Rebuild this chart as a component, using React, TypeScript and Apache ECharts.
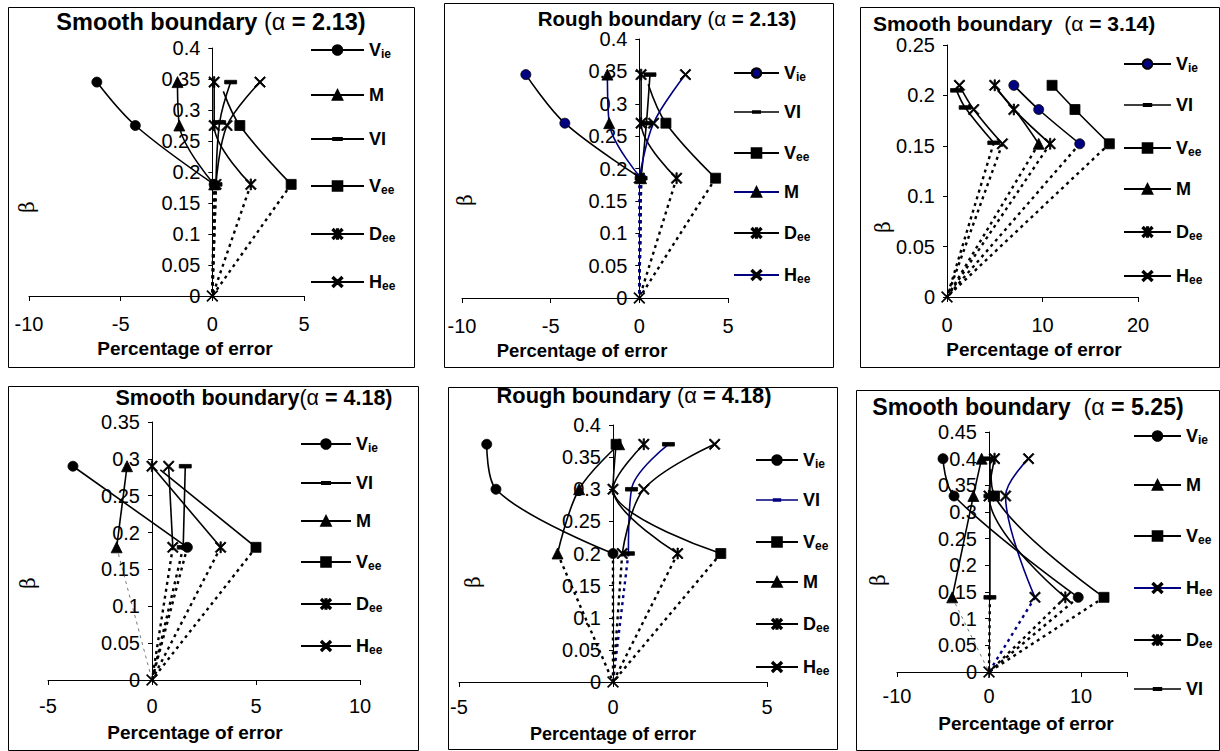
import React, { useEffect, useRef } from "react";
import * as echarts from "echarts";

// ---------- Data (percentage of error, beta) ----------
// Panel 1: Smooth boundary (alpha = 2.13)
const p1Vie = [[-6.3, 0.345], [-4.2, 0.275], [0.1, 0.18]];
const p1M = [[-1.9, 0.345], [-1.8, 0.275], [0.1, 0.18]];
const p1VI = [[1.0, 0.345], [0.4, 0.28], [0.2, 0.18]];
const p1Vee = [[0.6, 0.33], [1.5, 0.275], [4.3, 0.18]];
const p1Dee = [[0.1, 0.345], [0.1, 0.275], [2.1, 0.18]];
const p1Hee = [[2.6, 0.345], [0.8, 0.275], [0.2, 0.18]];

// Panel 2: Rough boundary (alpha = 2.13)
const p2Vie = [[-6.4, 0.345], [-4.2, 0.27], [0.1, 0.185]];
const p2VI = [[0.6, 0.345], [0.4, 0.27], [0.1, 0.185]];
const p2Vee = [[0.5, 0.33], [1.5, 0.27], [4.3, 0.185]];
const p2M = [[-1.8, 0.345], [-1.7, 0.27], [0.1, 0.185]];
const p2Dee = [[0.1, 0.345], [0.1, 0.27], [2.1, 0.185]];
const p2Hee = [[2.6, 0.345], [0.8, 0.27], [0.0, 0.185]];

// Panel 3: Smooth boundary (alpha = 3.14)
const p3Vie = [[7.0, 0.21], [9.6, 0.186], [13.9, 0.152]];
const p3VI = [[1.0, 0.205], [1.9, 0.188], [4.9, 0.153]];
const p3Vee = [[11.0, 0.21], [13.4, 0.186], [17.0, 0.152]];
const p3M = [[5.3, 0.205], [7.3, 0.183], [9.6, 0.152]];
const p3Dee = [[5.0, 0.21], [7.0, 0.186], [10.8, 0.152]];
const p3Hee = [[1.3, 0.21], [2.8, 0.186], [5.8, 0.152]];

// Panel 4: Smooth boundary (alpha = 4.18)
const p4Vie = [[-3.8, 0.29], [1.7, 0.18]];
const p4VI = [[1.6, 0.29], [1.5, 0.18]];
const p4M = [[-1.2, 0.29], [-1.7, 0.18]];
const p4Vee = [[0.4, 0.285], [5.0, 0.18]];
const p4Dee = [[0.0, 0.29], [3.3, 0.18]];
const p4Hee = [[0.8, 0.29], [1.0, 0.18]];

// Panel 5: Rough boundary (alpha = 4.18)
const p5Vie = [[-4.1, 0.37], [-3.8, 0.3], [0.0, 0.2]];
const p5VI = [[1.8, 0.37], [0.6, 0.3], [0.5, 0.2]];
const p5Vee = [[0.1, 0.37], [0.0, 0.3], [3.5, 0.2]];
const p5M = [[0.2, 0.37], [-1.1, 0.3], [-1.8, 0.2]];
const p5Dee = [[1.0, 0.37], [0.0, 0.3], [2.1, 0.2]];
const p5Hee = [[3.3, 0.37], [1.0, 0.3], [0.3, 0.2]];

// Panel 6: Smooth boundary (alpha = 5.25)
const p6Vie = [[-5.0, 0.4], [-3.8, 0.33], [9.7, 0.14]];
const p6M = [[-0.8, 0.4], [-1.7, 0.33], [-4.0, 0.14]];
const p6Vee = [[0.2, 0.38], [0.6, 0.33], [12.5, 0.14]];
const p6Hee = [[4.3, 0.4], [1.8, 0.33], [5.0, 0.14]];
const p6Dee = [[0.6, 0.4], [0.0, 0.33], [8.3, 0.14]];
const p6VI = [[0.1, 0.4], [0.1, 0.33], [0.1, 0.14]];

// points whose marker is not drawn
const hiddenPoints: Record<string, number[]> = {
  "Vee|1": [0],
  "Vee|2": [0],
  "M|3": [0, 1],
  "Vee|4": [0],
  "Vee|5": [1],
  "Vee|6": [0],
};

// ---------- Styling helpers ----------
const X_PATH = "path://M0,1L1,0L5,4L9,0L10,1L6,5L10,9L9,10L5,6L1,10L0,9L4,5Z";
const AST_PATH =
  "path://M0,1L1,0L5,4L9,0L10,1L6,5L10,9L9,10L5,6L1,10L0,9L4,5ZM4.4,0L5.6,0L5.6,10L4.4,10Z";
const DASH_PATH = "path://M0,0L10,0L10,3L0,3Z";
// legend icon for VI: a line with a short dash in the middle
const VI_LEGEND_ICON = "path://M0,5.1L50,5.1L50,6.9L0,6.9ZM20,4L30,4L30,8L20,8Z";
const FONT = "'Liberation Sans', Arial, sans-serif";
const NAVY = "#000080";
const TICK_FONT = 20;

const symbolOf: Record<string, any> = {
  Vie: "circle",
  M: "triangle",
  Vee: "rect",
  VI: DASH_PATH,
  Dee: AST_PATH,
  Hee: X_PATH,
};
const sizeOf: Record<string, any> = {
  Vie: 10,
  M: 11,
  Vee: 10,
  VI: 12,
  Dee: 11,
  Hee: 11,
};

const legendText: Record<string, string> = {
  Vie: "{b|V}{s|ie}",
  Vee: "{b|V}{s|ee}",
  Dee: "{b|D}{s|ee}",
  Hee: "{b|H}{s|ee}",
  M: "{b|M}",
  VI: "{b|VI}",
};

type PanelDef = {
  series: [string, number[][]][];
  lineColor?: Record<string, string>;
  markColor?: Record<string, string>;
  grid: { left: number; top: number; width: number; height: number };
  x: { min: number; max: number; interval: number; margin: number };
  y: { max: number };
  legend: { left: number; top: number; gap: number; w: number };
  title: { parts: [string, string]; x: number; y: number; size: number };
  axisTitle: { x: number; y: number; size: number };
  beta: { x: number; y: number };
  box: [number, number, number, number];
  originSymbol: string;
};

const panels: PanelDef[] = [
  {
    series: [["Vie", p1Vie], ["M", p1M], ["VI", p1VI], ["Vee", p1Vee], ["Dee", p1Dee], ["Hee", p1Hee]],
    grid: { left: 29, top: 48, width: 275, height: 248 },
    x: { min: -10, max: 5, interval: 5, margin: 18 },
    y: { max: 0.4 },
    legend: { left: 310, top: 38, gap: 26, w: 53 },
    title: { parts: ["Smooth boundary ", "2.13"], x: 211, y: 22, size: 23.5 },
    axisTitle: { x: 185, y: 348, size: 19 },
    beta: { x: 27, y: 207 },
    box: [8, 7, 414, 367],
    originSymbol: "Hee",
  },
  {
    series: [["Vie", p2Vie], ["VI", p2VI], ["Vee", p2Vee], ["M", p2M], ["Dee", p2Dee], ["Hee", p2Hee]],
    lineColor: { M: NAVY, Hee: NAVY },
    markColor: { Vie: NAVY },
    grid: { left: 462, top: 39, width: 266, height: 259 },
    x: { min: -10, max: 5, interval: 5, margin: 18 },
    y: { max: 0.4 },
    legend: { left: 733, top: 61, gap: 20, w: 45 },
    title: { parts: ["Rough boundary ", "2.13"], x: 667, y: 18, size: 20.5 },
    axisTitle: { x: 582, y: 350, size: 18.5 },
    beta: { x: 465, y: 200 },
    box: [444, 3, 833, 367],
    originSymbol: "Hee",
  },
  {
    series: [["Vie", p3Vie], ["VI", p3VI], ["Vee", p3Vee], ["M", p3M], ["Dee", p3Dee], ["Hee", p3Hee]],
    markColor: { Vie: NAVY },
    grid: { left: 947, top: 45, width: 191, height: 252 },
    x: { min: 0, max: 20, interval: 10, margin: 18 },
    y: { max: 0.25 },
    legend: { left: 1123, top: 52, gap: 22, w: 47 },
    title: { parts: ["Smooth boundary  ", "3.14"], x: 1014, y: 23, size: 21 },
    axisTitle: { x: 1034, y: 349, size: 19 },
    beta: { x: 883, y: 227 },
    box: [860, 7, 1219, 367],
    originSymbol: "Hee",
  },
  {
    series: [["Vie", p4Vie], ["VI", p4VI], ["M", p4M], ["Vee", p4Vee], ["Dee", p4Dee], ["Hee", p4Hee]],
    grid: { left: 48, top: 422, width: 312, height: 258 },
    x: { min: -5, max: 10, interval: 5, margin: 16 },
    y: { max: 0.35 },
    legend: { left: 300, top: 432, gap: 20, w: 50 },
    title: { parts: ["Smooth boundary", "4.18"], x: 254, y: 398, size: 21.5 },
    axisTitle: { x: 195, y: 732, size: 19 },
    beta: { x: 28, y: 583 },
    box: [8, 386, 418, 750],
    originSymbol: "Hee",
  },
  {
    series: [["Vie", p5Vie], ["VI", p5VI], ["Vee", p5Vee], ["M", p5M], ["Dee", p5Dee], ["Hee", p5Hee]],
    lineColor: { VI: NAVY },
    grid: { left: 459, top: 425, width: 308, height: 257 },
    x: { min: -5, max: 5, interval: 5, margin: 15 },
    y: { max: 0.4 },
    legend: { left: 755, top: 448, gap: 21, w: 42 },
    title: { parts: ["Rough boundary ", "4.18"], x: 634, y: 395, size: 21.8 },
    axisTitle: { x: 613, y: 734, size: 18 },
    beta: { x: 473, y: 582 },
    box: [448, 387, 837, 749],
    originSymbol: "Hee",
  },
  {
    series: [["Vie", p6Vie], ["M", p6M], ["Vee", p6Vee], ["Hee", p6Hee], ["Dee", p6Dee], ["VI", p6VI]],
    lineColor: { Hee: NAVY },
    grid: { left: 897, top: 432, width: 230, height: 240 },
    x: { min: -10, max: 15, interval: 10, margin: 14 },
    y: { max: 0.45 },
    legend: { left: 1133, top: 424, gap: 30, w: 47 },
    title: { parts: ["Smooth boundary  ", "5.25"], x: 1028, y: 407, size: 23.2 },
    axisTitle: { x: 1026, y: 723, size: 19 },
    beta: { x: 878, y: 580 },
    box: [856, 390, 1219, 750],
    originSymbol: "Dee",
  },
];

function buildOption() {
  const grid: any[] = [];
  const xAxis: any[] = [];
  const yAxis: any[] = [];
  const legend: any[] = [];
  const series: any[] = [];
  const graphic: any[] = [];

  panels.forEach((p, pi) => {
    const idx = pi + 1;
    grid.push({ ...p.grid, containLabel: false });
    xAxis.push({
      type: "value",
      gridIndex: pi,
      min: p.x.min,
      max: p.x.max,
      interval: p.x.interval,
      splitLine: { show: false },
      axisLine: { show: true, onZero: true, lineStyle: { color: "#000", width: 1 } },
      axisTick: { show: true, length: 5, lineStyle: { color: "#000" } },
      axisLabel: {
        color: "#000",
        fontSize: TICK_FONT,
        fontFamily: FONT,
        margin: p.x.margin,
        formatter: (v: number) => (v % p.x.interval === 0 ? String(v) : ""),
      },
    });
    // place the y axis at x = 0 (labels follow it)
    const zeroOffset = -(p.grid.width * (0 - p.x.min)) / (p.x.max - p.x.min);
    yAxis.push({
      type: "value",
      gridIndex: pi,
      min: 0,
      max: p.y.max,
      interval: 0.05,
      offset: zeroOffset,
      splitLine: { show: false },
      axisLine: { show: true, onZero: false, lineStyle: { color: "#000", width: 1 } },
      axisTick: { show: true, length: 4, lineStyle: { color: "#000" } },
      axisLabel: {
        color: "#000",
        fontSize: TICK_FONT,
        fontFamily: FONT,
        margin: 12,
        formatter: (v: number) => String(Math.round(v * 100) / 100),
      },
    });

    const legendData: any[] = [];
    p.series.forEach(([key, pts]) => {
      const name = `${key}|${idx}`;
      const lc = (p.lineColor && p.lineColor[key]) || "#000";
      const mc = (p.markColor && p.markColor[key]) || "#000";
      const hidden = hiddenPoints[name] || [];
      series.push({
        name,
        type: "line",
        xAxisIndex: pi,
        yAxisIndex: pi,
        smooth: 0.35,
        symbol: symbolOf[key],
        symbolSize: sizeOf[key],
        symbolKeepAspect: true,
        showSymbol: true,
        z: 3,
        lineStyle: { color: lc, width: 1.6 },
        itemStyle: { color: mc, borderColor: "#000", borderWidth: 0.8 },
        data: pts.map((pt, i) =>
          hidden.includes(i) ? { value: pt, symbol: "none" } : { value: pt }
        ),
      });
      if (key === "VI") {
        legendData.push({
          name,
          icon: VI_LEGEND_ICON,
          itemStyle: { color: lc, borderColor: lc, borderWidth: 0 },
        });
      } else {
        legendData.push({ name });
      }
      // dotted segment from lowest point down to origin
      const last = pts[pts.length - 1];
      const isOrigin = key === p.originSymbol;
      const thinM = key === "M" && (idx === 4 || idx === 6);
      series.push({
        name: `${key}|${idx}|d`,
        type: "line",
        xAxisIndex: pi,
        yAxisIndex: pi,
        smooth: false,
        symbol: isOrigin ? symbolOf[key] : "none",
        symbolSize: isOrigin ? 12 : 0,
        showSymbol: isOrigin,
        z: 2,
        lineStyle: {
          color: thinM ? "#555" : lc,
          width: thinM ? 0.8 : 2.4,
          type: [3, 4],
        },
        itemStyle: { color: "#000" },
        data: [{ value: last, symbolSize: 0 }, { value: [0, 0] }],
      });
    });

    legend.push({
      orient: "vertical",
      left: p.legend.left,
      top: p.legend.top,
      itemGap: p.legend.gap,
      itemWidth: p.legend.w,
      itemHeight: 12,
      padding: 0,
      selectedMode: false,
      data: legendData,
      formatter: (name: string) => legendText[name.split("|")[0]],
      textStyle: {
        color: "#000",
        fontFamily: FONT,
        rich: {
          b: { fontSize: 18, fontWeight: "bold", lineHeight: 20, fontFamily: FONT, color: "#000" },
          s: {
            fontSize: 12,
            fontWeight: "bold",
            lineHeight: 20,
            verticalAlign: "bottom",
            padding: [10, 0, 0, 0],
            fontFamily: FONT,
            color: "#000",
          },
        },
      },
    });

    const [bx0, by0, bx1, by1] = p.box;
    graphic.push({
      type: "rect",
      shape: { x: bx0 + 0.5, y: by0 + 0.5, width: bx1 - bx0, height: by1 - by0 },
      style: { fill: "none", stroke: "#000", lineWidth: 1 },
      z: 0,
      silent: true,
    });
    graphic.push({
      type: "text",
      x: p.title.x,
      y: p.title.y,
      style: {
        text: `{b|${p.title.parts[0]}}{n|(α }{b|= ${p.title.parts[1]})}`,
        align: "center",
        verticalAlign: "middle",
        rich: {
          b: { fontSize: p.title.size, fontWeight: "bold", fontFamily: FONT, fill: "#000" },
          n: { fontSize: p.title.size, fontWeight: "normal", fontFamily: FONT, fill: "#000" },
        },
      },
      z: 10,
    });
    graphic.push({
      type: "text",
      x: p.axisTitle.x,
      y: p.axisTitle.y,
      style: {
        text: "Percentage of error",
        align: "center",
        verticalAlign: "middle",
        fontSize: p.axisTitle.size,
        fontWeight: "bold",
        fontFamily: FONT,
        fill: "#000",
      },
      z: 10,
    });
    graphic.push({
      type: "text",
      x: p.beta.x,
      y: p.beta.y,
      rotation: Math.PI / 2,
      style: {
        text: "β",
        align: "center",
        verticalAlign: "middle",
        fontSize: 20,
        fontFamily: "'DejaVu Serif', serif",
        fill: "#000",
      },
      z: 10,
    });
  });

  return {
    animation: false,
    backgroundColor: "#fff",
    grid,
    xAxis,
    yAxis,
    legend,
    series,
    graphic,
  };
}

export default function App() {
  const ref = useRef<HTMLDivElement>(null);
  useEffect(() => {
    document.body.style.margin = "0";
    if (!ref.current) return;
    const chart = echarts.init(ref.current, undefined, { renderer: "svg" });
    chart.setOption(buildOption() as any);
    return () => chart.dispose();
  }, []);
  return <div ref={ref} style={{ width: 1220, height: 751 }} />;
}
